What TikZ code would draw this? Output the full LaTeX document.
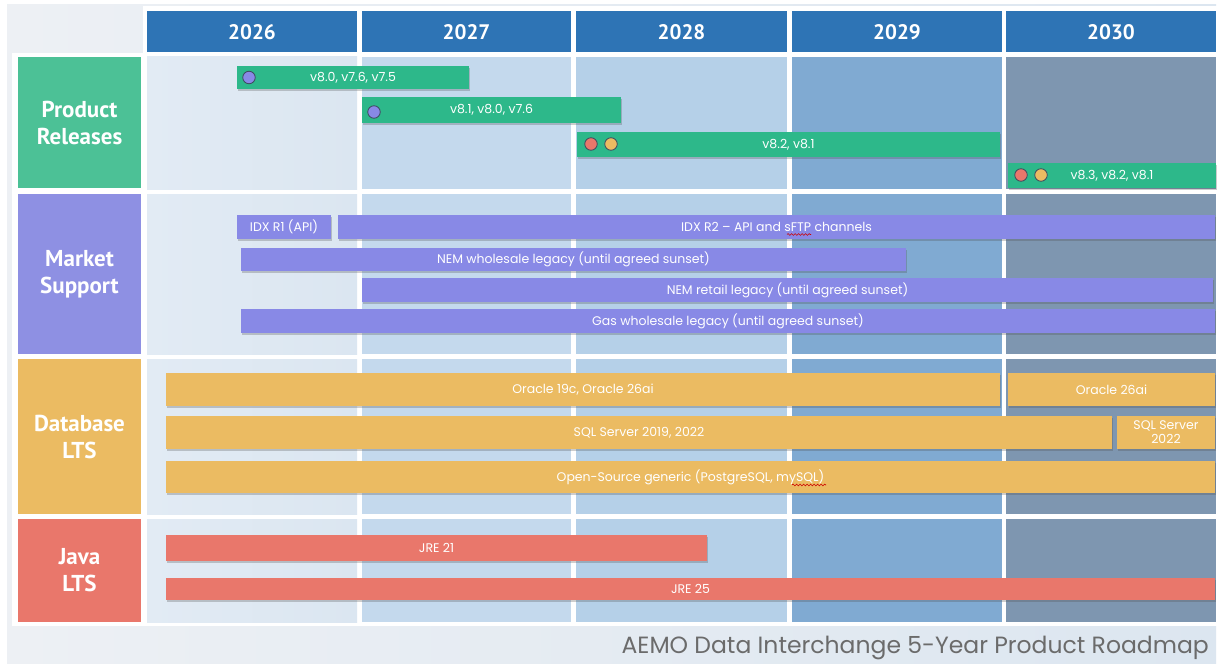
\documentclass[tikz,border=0pt]{standalone}
\usepackage{fontspec}
\setmainfont{Poppins}
\newfontfamily\hdfont{PT Sans}
\usetikzlibrary{shadows,decorations.pathmorphing}
\definecolor{bgL}{HTML}{EDF0F4}
\definecolor{bgR}{HTML}{DCE6F0}
\definecolor{hdblue}{HTML}{2E74B5}
\definecolor{cA}{HTML}{DBE6F1}
\definecolor{cAl}{HTML}{E2EBF4}
\definecolor{cB}{HTML}{C4D9ED}
\definecolor{cC}{HTML}{B5D0E8}
\definecolor{cD}{HTML}{80AAD2}
\definecolor{cE}{HTML}{7E96B0}
\definecolor{lgreen}{HTML}{4CC196}
\definecolor{bgreen}{HTML}{2DB88A}
\definecolor{lpurple}{HTML}{8E90E3}
\definecolor{bpurple}{HTML}{8889E6}
\definecolor{orng}{HTML}{EBBB62}
\definecolor{redd}{HTML}{E9776B}
\definecolor{dotline}{HTML}{3F4A60}
\definecolor{capgray}{HTML}{6B6B6B}
\newcommand\tlbar[7]{%
  \pgfmathsetmacro\bw{#4-#2}\pgfmathsetmacro\bh{#5-#3}%
  \pgfmathsetmacro\bx{(#2+#4)/2}\pgfmathsetmacro\by{(#3+#5)/2}%
  \node[#6, minimum width=\bw pt, minimum height=\bh pt] (#1) at (\bx,\by) {#7};}
\begin{document}
\begin{tikzpicture}[x=1pt,y=-1pt,
  yearbox/.style={fill=hdblue, text=white, font=\hdfont\bfseries\fontsize{21}{22}\selectfont, minimum width=210pt, minimum height=41pt, inner sep=0pt},
  rowlab/.style={text=white, font=\hdfont\bfseries\fontsize{23}{27}\selectfont, align=center, inner sep=0pt},
  barbase/.style={inner sep=0pt, text=white, font=\fontsize{12.5}{14}\selectfont, align=center,
     drop shadow={shadow xshift=1.2pt, shadow yshift=-1.6pt, opacity=0.28, fill=black!70}},
  gbarst/.style={barbase, fill=bgreen},
  pbarst/.style={barbase, fill=bpurple},
  obarst/.style={barbase, fill=orng},
  rbarst/.style={barbase, fill=redd},
  dotst/.style={circle, draw=dotline, line width=0.8pt, minimum size=12.5pt, inner sep=0pt},
  squig/.style={draw=red!80!black, line width=0.6pt, decorate, decoration={snake, amplitude=0.9pt, segment length=3.5pt}}
]
\useasboundingbox (0,0) rectangle (1220,666);
\fill[white] (0,0) rectangle (1220,666);
\shade[left color=bgL, right color=bgR] (7,5) rectangle (1216,663);
\fill[white] (143,6) rectangle (1220,55);
\fill[white] (12,53) rectangle (1220,626);

% cells
\foreach \ya/\yb in {57/189, 194/354, 359/514, 519/622}{
  \shade[left color=cAl, right color=cA] (147,\ya) rectangle (357,\yb);
  \fill[cB] (362,\ya) rectangle (571,\yb);
  \fill[cC] (576,\ya) rectangle (787,\yb);
  \fill[cD] (792,\ya) rectangle (1002,\yb);
  \fill[cE] (1006,\ya) rectangle (1216,\yb);
}

% year headers
\node[yearbox] (y26) at (252,32) {2026};
\node[yearbox, minimum width=209pt] (y27) at (466.5,32) {2027};
\node[yearbox, minimum width=211pt] (y28) at (681.5,32) {2028};
\node[yearbox] (y29) at (897,32) {2029};
\node[yearbox] (y30) at (1111,32) {2030};

% row labels
\node[rowlab, fill=lgreen, minimum width=123pt, minimum height=131pt] (lpr) at (79.5,122.5) {Product\\Releases};
\node[rowlab, fill=lpurple, minimum width=123pt, minimum height=160pt] (lms) at (79.5,274) {Market\\Support};
\node[rowlab, fill=orng, minimum width=123pt, minimum height=155pt] (ldb) at (79.5,436.5) {Database\\LTS};
\node[rowlab, fill=redd, minimum width=123pt, minimum height=103pt] (lja) at (79.5,570.5) {Java\\LTS};

% product releases
\tlbar{pr1}{237}{66}{469}{89}{gbarst}{v8.0, v7.6, v7.5}
\tlbar{pr2}{362}{97}{621}{123}{gbarst}{v8.1, v8.0, v7.6}
\tlbar{pr3}{577}{132}{1000}{157}{gbarst}{v8.2, v8.1}
\tlbar{pr4}{1008}{163}{1216}{188}{gbarst}{v8.3, v8.2, v8.1}
\node[dotst, fill=bpurple] (d1) at (249,77.5) {};
\node[dotst, fill=bpurple] (d2) at (374,112) {};
\node[dotst, fill=redd] (d3a) at (591,144) {};
\node[dotst, fill=orng] (d3b) at (611,144) {};
\node[dotst, fill=redd] (d4a) at (1021,175) {};
\node[dotst, fill=orng] (d4b) at (1041,175) {};

% market support
\tlbar{ms1}{237}{215}{331}{239}{pbarst}{IDX R1 (API)}
\tlbar{ms2}{338}{215}{1215}{239}{pbarst}{IDX R2 -- API and sFTP channels}
\tlbar{ms3}{241}{248}{906}{271}{pbarst}{NEM wholesale legacy (until agreed sunset)}
\tlbar{ms4}{362}{278}{1213}{302}{pbarst}{NEM retail legacy (until agreed sunset)}
\tlbar{ms5}{241}{309}{1215}{333}{pbarst}{Gas wholesale legacy (until agreed sunset)}

% database
\tlbar{db1}{166}{373}{1000}{406}{obarst}{Oracle 19c, Oracle 26ai}
\tlbar{db2}{1008}{373}{1215}{406}{obarst}{Oracle 26ai}
\tlbar{db3}{166}{416}{1112}{449}{obarst}{SQL Server 2019, 2022}
\tlbar{db4}{1117}{416}{1215}{449}{obarst}{SQL Server\\2022}
\tlbar{db5}{166}{461}{1215}{493}{obarst}{Open-Source generic (PostgreSQL, mySQL)}

% java
\tlbar{ja1}{166}{535}{707}{561}{rbarst}{JRE 21}
\tlbar{ja2}{166}{578}{1215}{600}{rbarst}{JRE 25}

% spell-check squiggles
\draw[squig] (787,234.5) -- (811,234.5);
\draw[squig] (792,485) -- (826,485);

% caption
\node[anchor=south east, inner sep=0pt, text=capgray, font=\fontsize{23.5}{25}\selectfont] (cap) at (1209,660) {AEMO Data Interchange 5-Year Product Roadmap};
\end{tikzpicture}
\end{document}
